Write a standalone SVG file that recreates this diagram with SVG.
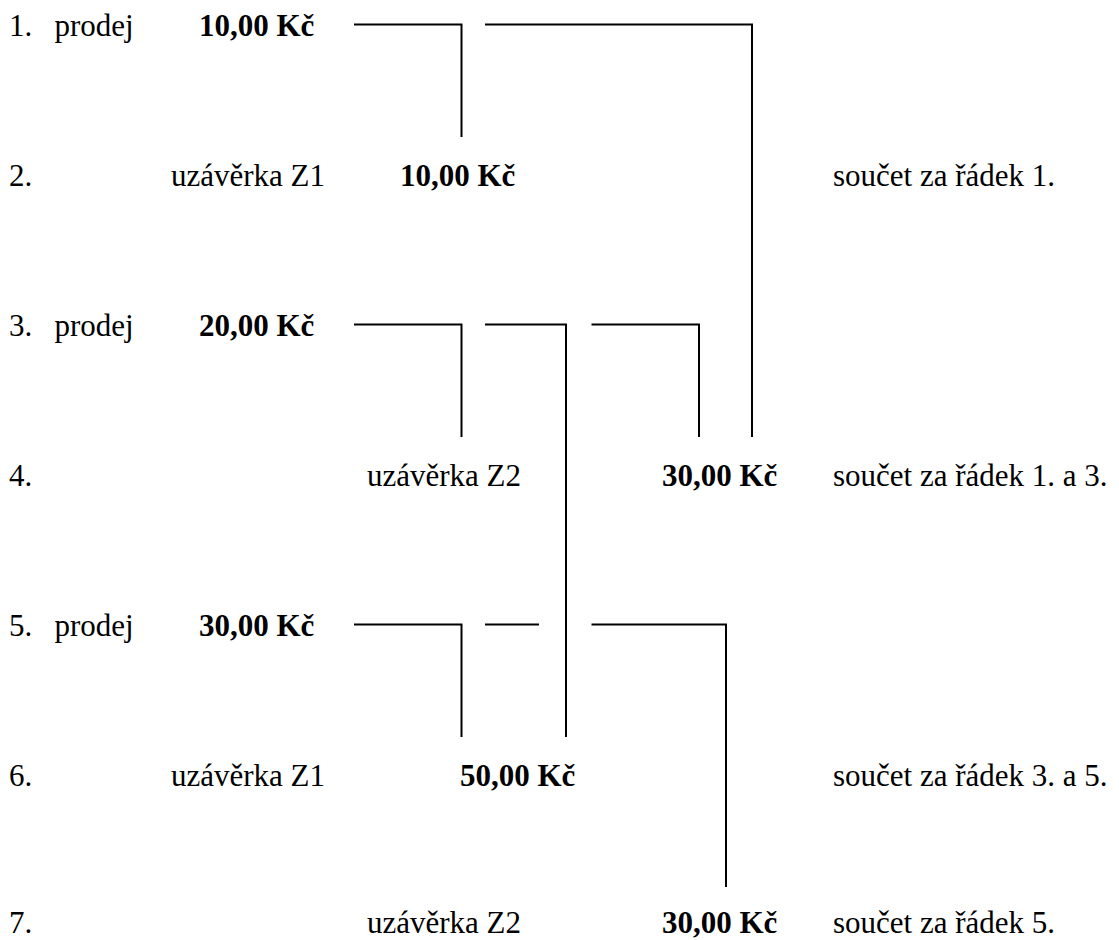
<svg xmlns="http://www.w3.org/2000/svg" width="1119" height="940" viewBox="0 0 1119 940">
<style>
text{font-family:"Times New Roman","Liberation Serif",Tinos,"DejaVu Serif",serif;font-size:31px;fill:#000}
.b{font-weight:bold}
.c{fill:none;stroke:#000;stroke-width:2}
</style>
<rect width="1119" height="940" fill="#fff"/>
<g id="row1"><text x="9" y="35.5">1.</text><text x="54.5" y="35.5">prodej</text><text class="b" x="199" y="35.5">10,00 Kč</text></g>
<g id="row2"><text x="9" y="185.5">2.</text><text x="171" y="185.5">uzávěrka Z1</text><text class="b" x="400" y="185.5">10,00 Kč</text><text x="833" y="185.5">součet za řádek 1.</text></g>
<g id="row3"><text x="9" y="335.5">3.</text><text x="54.5" y="335.5">prodej</text><text class="b" x="199" y="335.5">20,00 Kč</text></g>
<g id="row4"><text x="9" y="485.5">4.</text><text x="367" y="485.5">uzávěrka Z2</text><text class="b" x="662" y="485.5">30,00 Kč</text><text x="833" y="485.5">součet za řádek 1. a 3.</text></g>
<g id="row5"><text x="9" y="635.5">5.</text><text x="54.5" y="635.5">prodej</text><text class="b" x="199" y="635.5">30,00 Kč</text></g>
<g id="row6"><text x="9" y="785.5">6.</text><text x="171" y="785.5">uzávěrka Z1</text><text class="b" x="460" y="785.5">50,00 Kč</text><text x="833" y="785.5">součet za řádek 3. a 5.</text></g>
<g id="row7"><text x="9" y="933">7.</text><text x="367" y="933">uzávěrka Z2</text><text class="b" x="662" y="933">30,00 Kč</text><text x="833" y="933">součet za řádek 5.</text></g>
<g id="connectors">
<path class="c" d="M354 24.5H461.5V137"/>
<path class="c" d="M485 24.5H752V437"/>
<path class="c" d="M354 324.5H461.5V437"/>
<path class="c" d="M485 324.5H566V737"/>
<path class="c" d="M591.5 324.5H699V437"/>
<path class="c" d="M354 624.5H461.5V737"/>
<path class="c" d="M485 624.5H539"/>
<path class="c" d="M591.5 624.5H726V887"/>
</g>
</svg>
